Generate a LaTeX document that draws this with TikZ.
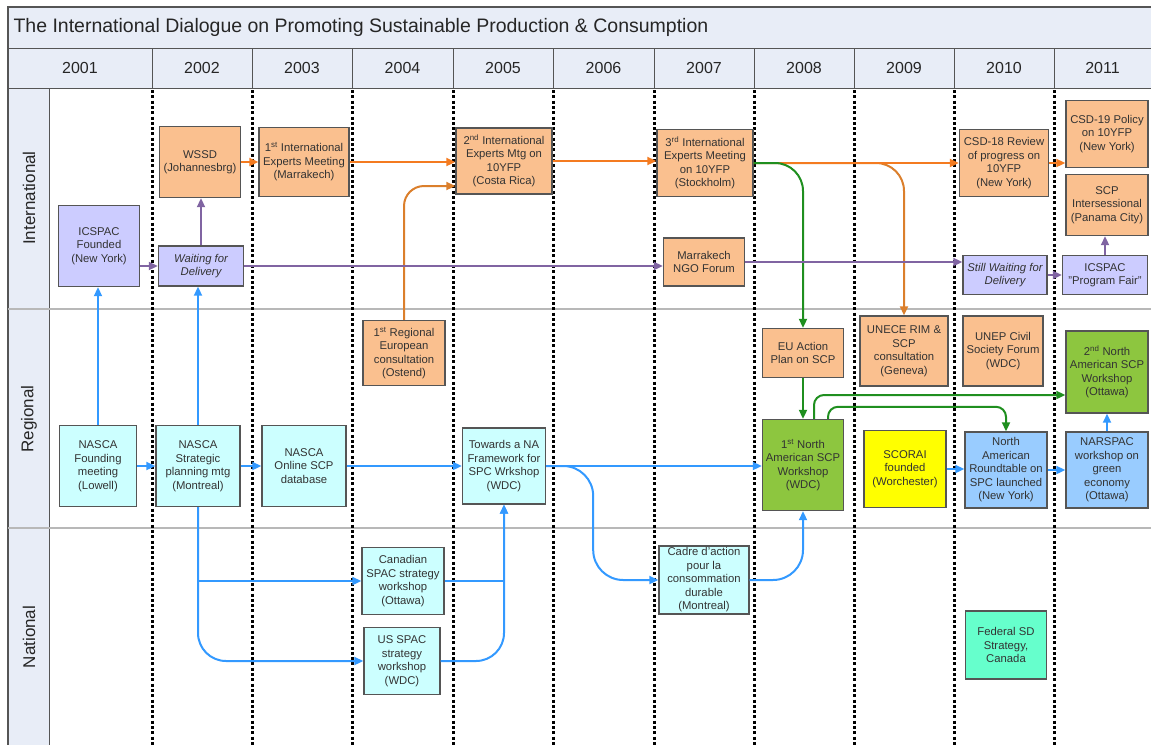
\documentclass[tikz,border=0pt]{standalone}
\usepackage{fontspec}
\setmainfont{Liberation Sans}
\usetikzlibrary{arrows.meta,calc}
\definecolor{hdr}{HTML}{E8EDF7}
\definecolor{frame}{HTML}{555555}
\definecolor{boxline}{HTML}{555555}
\definecolor{txt}{HTML}{333333}
\definecolor{orangebox}{HTML}{FAC08F}
\definecolor{purplebox}{HTML}{CCCCFF}
\definecolor{cyanbox}{HTML}{CCFFFF}
\definecolor{greenbox}{HTML}{8DC63F}
\definecolor{bluebox}{HTML}{99CCFF}
\definecolor{tealbox}{HTML}{66FFCC}
\definecolor{yellowbox}{HTML}{FFFF00}
\definecolor{orangeline}{HTML}{F47B20}
\definecolor{orangedark}{HTML}{DB7F2C}
\definecolor{purpleline}{HTML}{8064A2}
\definecolor{blueline}{HTML}{3399FF}
\definecolor{greenline}{HTML}{1F8F1F}
\begin{document}
\begin{tikzpicture}[x=1pt,y=-1pt,
  box/.style={draw=boxline, line width=1.4pt, align=center, text=txt,
    font=\fontsize{11.3}{13.5}\selectfont, inner sep=1pt},
  sz/.style 2 args={minimum width=#1, minimum height=#2},
  conn/.style={line width=2pt, -{Triangle[length=9pt,width=8pt]}},
  ob/.style={box, fill=orangebox},
  pb/.style={box, fill=purplebox},
  cb/.style={box, fill=cyanbox},
  gb/.style={box, fill=greenbox},
  bb/.style={box, fill=bluebox},
  itbox/.style={font=\fontsize{11.3}{13.5}\selectfont\itshape},
  yearlbl/.style={font=\fontsize{16}{18}\selectfont, text=black!85},
  lanelbl/.style={font=\fontsize{17}{19}\selectfont, text=black!85, rotate=90},
  sep/.style={line width=3pt, draw=black, dash pattern=on 3pt off 2.3pt}
]
\useasboundingbox (0,0) rectangle (1151,745);
% frame: title, header, lane labels
\fill[hdr] (8,7) rectangle (1151,88);
\fill[hdr] (8,88) rectangle (49,745);
\draw[frame, line width=1.2pt] (1151,7) -- (8,7) -- (8,745);
\draw[frame, line width=1pt] (8,48) -- (1151,48);
\draw[frame, line width=1pt] (8,88) -- (1151,88);
\draw[frame, line width=1pt] (49,88) -- (49,745);
\node[anchor=west, font=\fontsize{19.5}{21}\selectfont, text=black!85] (title) at (10,27.5) {The International Dialogue on Promoting Sustainable Production \& Consumption};
% lane separators
\draw[black!28, line width=2pt] (8,309) -- (1151,309);
\draw[black!28, line width=2pt] (8,528) -- (1151,528);
% lane labels
\node[lanelbl] (lint) at (29,198) {International};
\node[lanelbl] (lreg) at (29,419) {Regional};
\node[lanelbl] (lnat) at (29,637) {National};
% years
\foreach \xa/\xb/\yr in {8/152/2001,152/252/2002,252/352/2003,352/453/2004,453/553/2005,553/654/2006,654/754/2007,754/854/2008,854/954/2009,954/1054/2010,1054/1151/2011}{
  \node[yearlbl] (y\yr) at ({(\xa+\xb)/2},68) {\yr};
}
\foreach \xx in {152,252,352,453,553,654,754,854,954,1054}{
  \draw[frame, line width=1pt] (\xx,48) -- (\xx,88);
  \draw[sep] (\xx,90) -- (\xx,745);
}
% ---------- International ----------
\node[ob, sz={81}{71}] (wssd) at (200,162) {WSSD\\(Johannesbrg)};
\node[ob, sz={90}{69}] (ie1) at (304,162) {1\textsuperscript{st} International\\Experts Meeting\\(Marrakech)};
\node[pb, sz={81}{81}] (icspac) at (99,246) {ICSPAC\\Founded\\(New York)};
\node[pb, sz={85}{40}, itbox] (wait) at (201,266) {Waiting for\\Delivery};
\node[ob, sz={96}{66}] (ie2) at (504,161) {2\textsuperscript{nd} International\\Experts Mtg on\\10YFP\\(Costa Rica)};
\node[ob, sz={96}{67}] (ie3) at (705,163) {3\textsuperscript{rd} International\\Experts Meeting\\on 10YFP\\(Stockholm)};
\node[ob, sz={81}{48}] (ngo) at (704,262) {Marrakech\\NGO Forum};
\node[ob, sz={89}{67}] (csd18) at (1004,163) {CSD-18 Review\\of progress on\\10YFP\\(New York)};
\node[ob, sz={82}{67}] (csd19) at (1107,134) {CSD-19 Policy\\on 10YFP\\(New York)};
\node[ob, sz={82}{61}] (scpi) at (1107,205) {SCP\\Intersessional\\(Panama City)};
\node[pb, sz={84}{39}, itbox] (still) at (1005,275) {Still Waiting for\\Delivery};
\node[pb, sz={85}{39}] (fair) at (1105,275) {ICSPAC\\"Program Fair"};
% ---------- Regional ----------
\node[ob, sz={82}{65}] (ostend) at (404,353) {1\textsuperscript{st} Regional\\European\\consultation\\(Ostend)};
\node[ob, sz={81}{49}] (euap) at (803,353) {EU Action\\Plan on SCP};
\node[ob, sz={88}{70}] (unece) at (904,351) {UNECE RIM \&\\SCP\\consultation\\(Geneva)};
\node[ob, sz={80}{70}] (unep) at (1003,351) {UNEP Civil\\Society Forum\\(WDC)};
\node[gb, sz={82}{82}] (na2) at (1107,372) {2\textsuperscript{nd} North\\American SCP\\Workshop\\(Ottawa)};
\node[cb, sz={77}{81}] (nf) at (98,466) {NASCA\\Founding\\meeting\\(Lowell)};
\node[cb, sz={84}{81}] (ns) at (198,466) {NASCA\\Strategic\\planning mtg\\(Montreal)};
\node[cb, sz={84}{81}] (no) at (304,466) {NASCA\\Online SCP\\database};
\node[cb, sz={83}{76}] (tw) at (504,466) {Towards a NA\\Framework for\\SPC Wrkshop\\(WDC)};
\node[gb, sz={81}{91}] (na1) at (803,465) {1\textsuperscript{st} North\\American SCP\\Workshop\\(WDC)};
\node[box, fill=yellowbox, sz={82}{77}] (scorai) at (905,469) {SCORAI\\founded\\(Worchester)};
\node[bb, sz={82}{76}] (nart) at (1006,470) {North\\American\\Roundtable on\\SPC launched\\(New York)};
\node[bb, sz={82}{76}] (narspac) at (1107,470) {NARSPAC\\workshop on\\green\\economy\\(Ottawa)};
% ---------- National ----------
\node[cb, sz={82}{67}] (can) at (403,581) {Canadian\\SPAC strategy\\workshop\\(Ottawa)};
\node[cb, sz={76}{67}] (us) at (402,661) {US SPAC\\strategy\\workshop\\(WDC)};
\node[cb, sz={90}{68}] (cadre) at (704,580) {Cadre d’action\\pour la\\consommation\\durable\\(Montreal)};
\node[box, fill=tealbox, sz={81}{68}] (fed) at (1006,645) {Federal SD\\Strategy,\\Canada};
% ---------- Orange connectors ----------
\draw[conn, orangeline] (wssd.east) -- (wssd.east -| ie1.west);
\draw[conn, orangeline] (ie1.east) -- (ie1.east -| ie2.west);
\draw[conn, orangeline] (ie2.east) -- (ie2.east -| ie3.west);
\draw[conn, orangedark, rounded corners=28] (ie3.east) -| (unece.north);
\draw[conn, orangeline] (ie3.east) -- (ie3.east -| csd18.west);
\draw[conn, orangeline] (csd18.east) -- (csd18.east -| csd19.west);
\draw[conn, orangedark, rounded corners=20] (ostend.north) |- ([yshift=-25pt]ie2.west);
% ---------- Green connectors ----------
\draw[conn, greenline, rounded corners=28] (ie3.east) -| (euap.north);
\draw[conn, greenline] (euap.south) -- (na1.north);
\draw[conn, greenline, rounded corners=10] ([xshift=11pt]na1.north) |- ([yshift=-23pt]na2.west);
\draw[conn, greenline, rounded corners=10] ([xshift=25pt]na1.north) -- ++(0,-12) -| (nart.north);
% ---------- Purple connectors ----------
\draw[conn, purpleline] (icspac.east |- wait.west) -- (wait.west);
\draw[conn, purpleline] (wait.north) -- (wait.north |- wssd.south);
\draw[conn, purpleline] (wait.east) -- (wait.east -| ngo.west);
\draw[conn, purpleline] (ngo.east) -- (ngo.east -| still.west);
\draw[conn, purpleline] (still.east) -- (fair.west);
\draw[conn, purpleline] (fair.north) -- (fair.north |- scpi.south);
% ---------- Blue connectors ----------
\draw[conn, blueline] (nf.north) -- (nf.north |- icspac.south);
\draw[conn, blueline] (ns.north) -- (ns.north |- wait.south);
\draw[conn, blueline] (nf.east) -- (ns.west);
\draw[conn, blueline] (ns.east) -- (no.west);
\draw[conn, blueline] (no.east) -- (tw.west);
\draw[conn, blueline] (tw.east) -- (tw.east -| na1.west);
\draw[conn, blueline, rounded corners=30] (tw.east) -- ++(47,0) |- (cadre.west);
\draw[conn, blueline, rounded corners=30] (cadre.east) -| (na1.south);
\draw[conn, blueline] (ns.south) |- (can.west);
\draw[conn, blueline, rounded corners=28] (ns.south) |- (us.west);
\draw[conn, blueline] (can.east) -| (tw.south);
\draw[conn, blueline, rounded corners=28] (us.east) -| (tw.south);
\draw[conn, blueline] (scorai.east) -- (scorai.east -| nart.west);
\draw[conn, blueline] (nart.east) -- (narspac.west);
\draw[conn, blueline] (narspac.north) -- (na2.south);
\end{tikzpicture}
\end{document}
